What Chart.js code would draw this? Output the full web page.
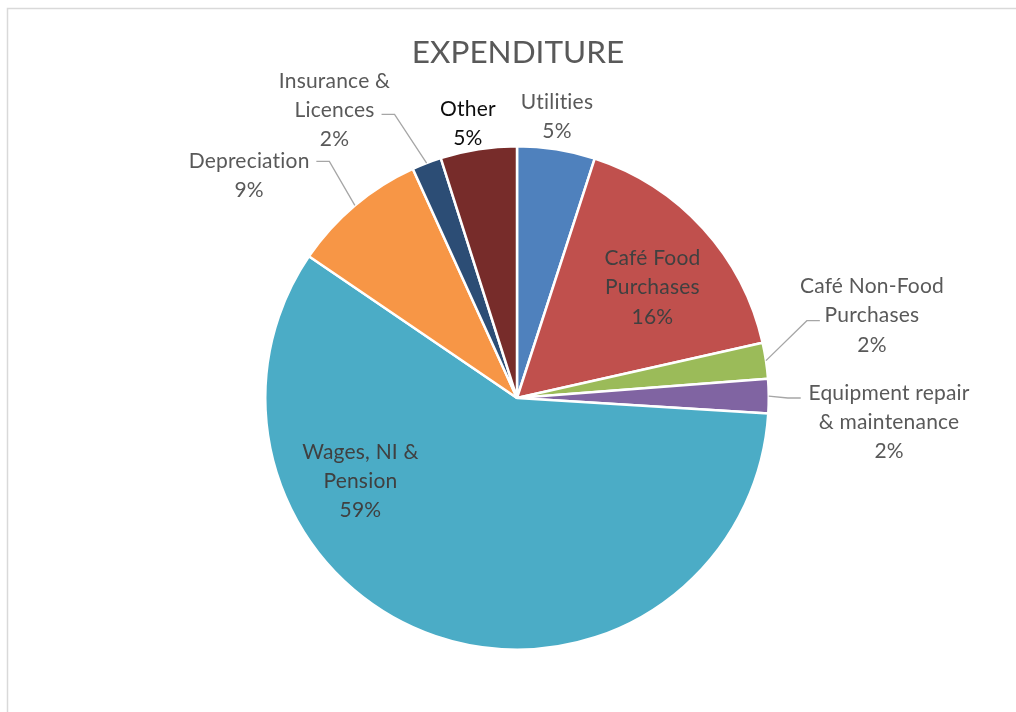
<!DOCTYPE html>
<html>
<head>
<meta charset="utf-8">
<script src="https://cdn.jsdelivr.net/npm/chart.js@4.4.1/dist/chart.umd.min.js"></script>
<style>
  html, body { margin: 0; padding: 0; background: #fff; }
  #wrap { width: 1016px; height: 712px; position: relative; }
</style>
</head>
<body>
<div id="wrap"><canvas id="expChart" width="1016" height="712"></canvas></div>
<script>
const categories = [
  "Utilities",
  "Café Food Purchases",
  "Café Non-Food Purchases",
  "Equipment repair & maintenance",
  "Wages, NI & Pension",
  "Depreciation",
  "Insurance & Licences",
  "Other",
];
const shares = [5.0, 16.5, 2.3, 2.2, 58.6, 8.7, 1.9, 4.9];
const sliceColors = ["#4f81bd", "#c0504d", "#9bbb59", "#8064a2", "#4bacc6", "#f79646", "#2c4d75", "#772c2a"];

// how each label is split into lines
const labelLines = [
  ["Utilities"],
  ["Café Food", "Purchases"],
  ["Café Non-Food", "Purchases"],
  ["Equipment repair", "& maintenance"],
  ["Wages, NI &", "Pension"],
  ["Depreciation"],
  ["Insurance &", "Licences"],
  ["Other"],
];
// label block centre, in units of the pie radius from the pie centre
const labelOffset = [
  [0.159, -1.124], [0.538, -0.446], [1.41, -0.335], [1.478, 0.088],
  [-0.622, 0.323], [-1.064, -0.892], [-0.725, -1.151], [-0.195, -1.096],
];
// leader line end (label side), same units; null = no leader
const leaderEnd = [null, null, [1.203, -0.307], [1.127, 0], null, [-0.797, -0.94], [-0.538, -1.127], null];
const labelColors = ["#595959", "#404040", "#595959", "#595959", "#404040", "#595959", "#595959", "#0d0d0d"];

const FONT = "Lato, 'Open Sans', sans-serif";

const pieLabels = {
  id: "pieLabels",
  beforeDraw(chart) {
    const ctx = chart.ctx;
    ctx.save();
    ctx.fillStyle = "#fff";
    ctx.fillRect(0, 0, chart.width, chart.height);
    ctx.strokeStyle = "#d9d9d9";
    ctx.lineWidth = 1.5;
    ctx.beginPath();
    ctx.moveTo(7.5, chart.height + 2);
    ctx.lineTo(7.5, 8.5);
    ctx.lineTo(chart.width + 2, 8.5);
    ctx.stroke();
    ctx.fillStyle = "#595959";
    ctx.font = "31.5px " + FONT;
    ctx.textAlign = "center";
    ctx.textBaseline = "middle";
    ctx.fillText("EXPENDITURE", 518, 53);
    ctx.restore();
  },
  afterDraw(chart) {
    const ctx = chart.ctx;
    const meta = chart.getDatasetMeta(0);
    const total = shares.reduce((a, b) => a + b, 0);
    ctx.save();
    // a little spacing keeps Lato from joining "ti" into a ligature
    ctx.letterSpacing = "0.2px";
    meta.data.forEach((arc, i) => {
      const r = arc.outerRadius;
      const cx = arc.x, cy = arc.y;
      const lx = cx + labelOffset[i][0] * r;
      const ly = cy + labelOffset[i][1] * r + 2;
      if (leaderEnd[i]) {
        const mid = (arc.startAngle + arc.endAngle) / 2;
        const sx = cx + Math.cos(mid) * r;
        const sy = cy + Math.sin(mid) * r;
        const ex = cx + leaderEnd[i][0] * r;
        const ey = cy + leaderEnd[i][1] * r;
        const bx = ex + (ex > cx ? -13 : 13);
        ctx.strokeStyle = "#a6a6a6";
        ctx.lineWidth = 1.3;
        ctx.beginPath();
        ctx.moveTo(sx, sy);
        ctx.lineTo(bx, ey);
        ctx.lineTo(ex, ey);
        ctx.stroke();
      }
      const lines = labelLines[i].concat([Math.round(shares[i] / total * 100) + "%"]);
      ctx.font = "21px " + FONT;
      ctx.fillStyle = labelColors[i];
      ctx.textAlign = "center";
      ctx.textBaseline = "middle";
      const lh = 29.3;
      const top = ly - (lines.length - 1) * lh / 2;
      lines.forEach((t, k) => ctx.fillText(t, lx, top + k * lh));
    });
    ctx.restore();
  },
};

new Chart(document.getElementById("expChart"), {
  type: "pie",
  data: {
    labels: categories,
    datasets: [{
      data: shares,
      backgroundColor: sliceColors,
      borderColor: "#ffffff",
      borderWidth: 2.5,
    }],
  },
  options: {
    responsive: false,
    animation: false,
    layout: { padding: { top: 145, bottom: 61, left: 264, right: 246 } },
    plugins: {
      legend: { display: false },
      tooltip: { enabled: false },
    },
  },
  plugins: [pieLabels],
});
</script>
</body>
</html>
